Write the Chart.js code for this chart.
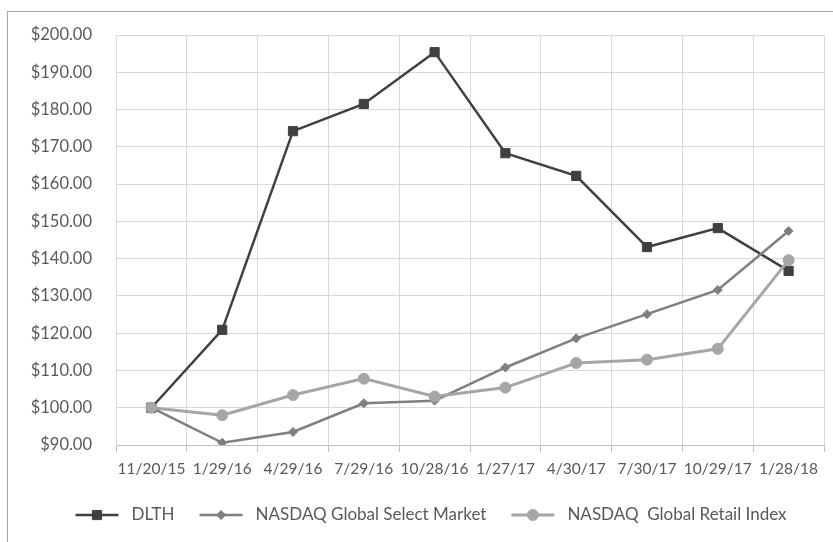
<!DOCTYPE html>
<html>
<head>
<meta charset="utf-8">
<script src="https://cdn.jsdelivr.net/npm/chart.js@4.4.0/dist/chart.umd.min.js"></script>
<style>
  html, body { margin: 0; padding: 0; background: #fff; }
  .wrap { position: relative; width: 833px; height: 542px; overflow: hidden; }
  .frame {
    position: absolute; left: 7px; top: 11px; width: 900px; height: 600px;
    border-left: 1px solid #a6a6a6; border-top: 1px solid #a6a6a6;
  }
  canvas { position: absolute; left: 0; top: 0; }
</style>
</head>
<body>
<div class="wrap">
  <div class="frame"></div>
  <canvas id="perfChart" width="833" height="542"></canvas>
</div>
<script>
const dates = ["11/20/15", "1/29/16", "4/29/16", "7/29/16", "10/28/16", "1/27/17", "4/30/17", "7/30/17", "10/29/17", "1/28/18"];
const dlth = [100, 120.9, 174.2, 181.5, 195.4, 168.3, 162.2, 143.1, 148.2, 136.7];
const globalSelect = [100, 90.6, 93.5, 101.2, 101.9, 110.8, 118.6, 125.1, 131.6, 147.4];
const globalRetail = [100, 98.0, 103.4, 107.8, 103.0, 105.4, 112.0, 112.9, 115.8, 139.6];
const seriesNames = ["DLTH", "NASDAQ Global Select Market", "NASDAQ  Global Retail Index"];
const yMin = 90, yMax = 200, yStep = 10;

const textColor = "#595959";
const fontFamily = "Lato, 'Open Sans', sans-serif";

// legend drawn by hand: line with the marker in the middle, like the original
const bottomLegend = {
  id: "bottomLegend",
  afterDraw(chart) {
    const ctx = chart.ctx;
    const lineLen = 43, gapText = 13, gapItem = 25;
    const y = 515;
    ctx.save();
    ctx.font = "17px " + fontFamily;
    const items = chart.data.datasets.map((ds) => ({ ds, w: ctx.measureText(ds.label).width }));
    let total = 0;
    items.forEach((it, i) => { total += lineLen + gapText + it.w + (i < items.length - 1 ? gapItem : 0); });
    let x = 431 - total / 2;
    items.forEach((it) => {
      const ds = it.ds;
      ctx.strokeStyle = ds.borderColor;
      ctx.lineWidth = ds.borderWidth;
      ctx.beginPath();
      ctx.moveTo(x, y);
      ctx.lineTo(x + lineLen, y);
      ctx.stroke();
      ctx.fillStyle = ds.pointBackgroundColor;
      ctx.strokeStyle = ds.pointBorderColor;
      ctx.lineWidth = 1;
      Chart.helpers.drawPoint(ctx, { pointStyle: ds.pointStyle, radius: ds.pointRadius, borderWidth: 1, rotation: 0 }, x + lineLen / 2, y);
      ctx.fillStyle = textColor;
      ctx.textBaseline = "middle";
      ctx.textAlign = "left";
      ctx.fillText(ds.label, x + lineLen + gapText, y);
      x += lineLen + gapText + it.w + gapItem;
    });
    ctx.restore();
  }
};

const ctx = document.getElementById("perfChart");

new Chart(ctx, {
  type: "line",
  data: {
    labels: dates,
    datasets: [
      {
        label: seriesNames[0],
        data: dlth,
        order: 3,
        borderColor: "#404040",
        borderWidth: 2.5,
        pointStyle: "rect",
        pointRadius: 6.5,
        pointBackgroundColor: "#404040",
        pointBorderColor: "#404040",
        pointBorderWidth: 1,
      },
      {
        label: seriesNames[1],
        data: globalSelect,
        order: 2,
        borderColor: "#7f7f7f",
        borderWidth: 2.5,
        pointStyle: "rectRot",
        pointRadius: 4.5,
        pointBackgroundColor: "#7f7f7f",
        pointBorderColor: "#7f7f7f",
        pointBorderWidth: 1,
      },
      {
        label: seriesNames[2],
        data: globalRetail,
        order: 1,
        borderColor: "#a6a6a6",
        borderWidth: 3,
        pointStyle: "circle",
        pointRadius: 5.5,
        pointBackgroundColor: "#a6a6a6",
        pointBorderColor: "#a6a6a6",
        pointBorderWidth: 1,
      },
    ],
  },
  options: {
    responsive: false,
    animation: false,
    layout: { padding: { left: 0, top: 35, right: 9, bottom: 0 } },
    plugins: {
      legend: { display: false },
      tooltip: { enabled: false },
    },
    scales: {
      x: {
        offset: true,
        grid: { offset: true, color: "#d9d9d9", tickColor: "#bfbfbf", tickLength: 7 },
        border: { color: "#bfbfbf", width: 1 },
        ticks: { color: textColor, font: { family: fontFamily, size: 15.5 }, padding: 8, maxRotation: 0, autoSkip: false },
        afterFit(scale) { scale.height = 97; },
      },
      y: {
        min: yMin,
        max: yMax,
        grid: { color: "#d9d9d9", drawTicks: false },
        border: { color: "#d9d9d9" },
        ticks: {
          stepSize: yStep,
          color: textColor,
          font: { family: fontFamily, size: 16.5 },
          padding: 24,
          callback: (v) => "$" + v.toFixed(2),
        },
        afterFit(scale) { scale.width = 116; },
      },
    },
  },
  plugins: [bottomLegend],
});
</script>
</body>
</html>
